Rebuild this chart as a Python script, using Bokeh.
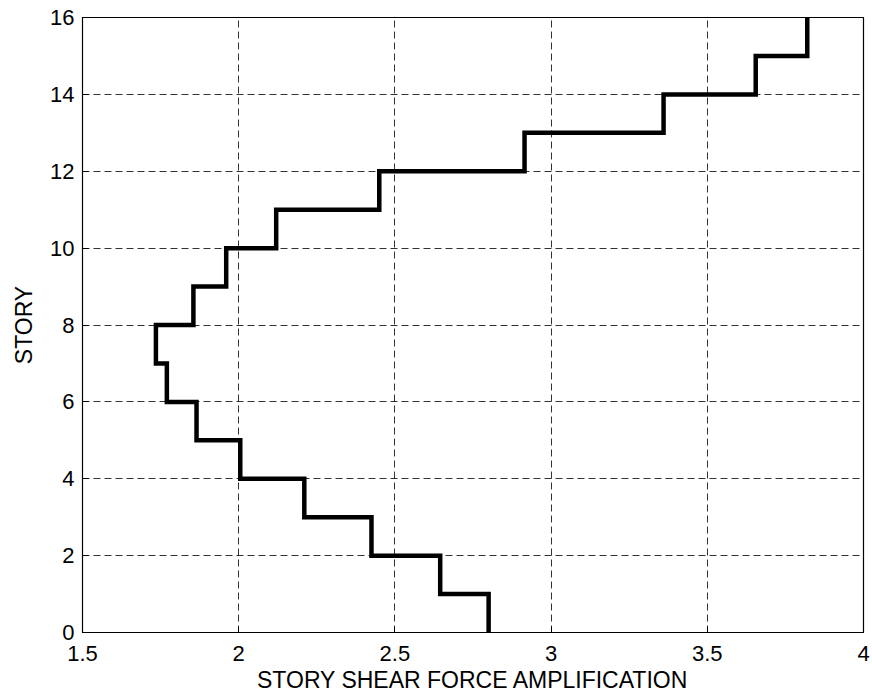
from bokeh.plotting import figure
from bokeh.models import FixedTicker, Range1d
from bokeh.embed import file_html
from bokeh.resources import INLINE

# Data: shear force amplification per story (story i -> i+1)
stories = list(range(0, 17))
amplification = [2.80, 2.645, 2.425, 2.21, 2.005, 1.865, 1.77, 1.735,
                 1.855, 1.96, 2.12, 2.45, 2.915, 3.36, 3.655, 3.82]
x_ticks = [1.5, 2.0, 2.5, 3.0, 3.5, 4.0]
x_tick_labels = ["1.5", "2", "2.5", "3", "3.5", "4"]
y_ticks = [0, 2, 4, 6, 8, 10, 12, 14, 16]
y_tick_labels = ["0", "2", "4", "6", "8", "10", "12", "14", "16"]
x_label = "STORY SHEAR FORCE AMPLIFICATION"
y_label = "STORY"

FONT = "Liberation Sans"

p = figure(width=872, height=695, output_backend="svg", toolbar_location=None,
           x_range=Range1d(1.5, 4.0), y_range=Range1d(0, 16),
           min_border_left=82, min_border_right=9, min_border_top=17,
           min_border_bottom=62)
p.background_fill_color = "white"
p.border_fill_color = "white"
p.outline_line_color = "black"
p.outline_line_width = 1.2

# step line built from the data
xs, ys = [], []
for i, v in enumerate(amplification):
    xs += [v, v]
    ys += [stories[i], stories[i + 1]]
p.line(xs, ys, line_color="black", line_width=4.5, line_join="miter")

for ax in (p.xaxis[0], p.yaxis[0]):
    ax.major_label_text_font = FONT
    ax.major_label_text_font_size = "22px"
    ax.major_label_text_color = "black"
    ax.axis_label_text_font = FONT
    ax.axis_label_text_font_size = "23px"
    ax.axis_label_text_font_style = "normal"
    ax.axis_label_text_color = "black"
    ax.axis_line_color = "black"
    ax.major_tick_in = 6
    ax.major_tick_out = 0
    ax.minor_tick_line_color = None
    ax.major_tick_line_color = "black"

p.xaxis[0].ticker = FixedTicker(ticks=x_ticks)
p.xaxis[0].major_label_overrides = {t: s for t, s in zip(x_ticks, x_tick_labels)}
p.yaxis[0].ticker = FixedTicker(ticks=y_ticks)
p.yaxis[0].major_label_overrides = {t: s for t, s in zip(y_ticks, y_tick_labels)}
p.xaxis[0].axis_label = x_label
p.yaxis[0].axis_label = y_label
p.xaxis[0].major_label_standoff = 13
p.xaxis[0].axis_label_standoff = 3
p.yaxis[0].major_label_standoff = 8
p.yaxis[0].axis_label_standoff = 10

for g in (p.xgrid[0], p.ygrid[0]):
    g.grid_line_color = "black"
    g.grid_line_dash = "7 4"
    g.grid_line_width = 1
    g.grid_line_alpha = 0.8

p.xgrid[0].ticker = FixedTicker(ticks=x_ticks)
p.ygrid[0].ticker = FixedTicker(ticks=y_ticks)

open("out.html", "w").write(file_html(p, INLINE))
